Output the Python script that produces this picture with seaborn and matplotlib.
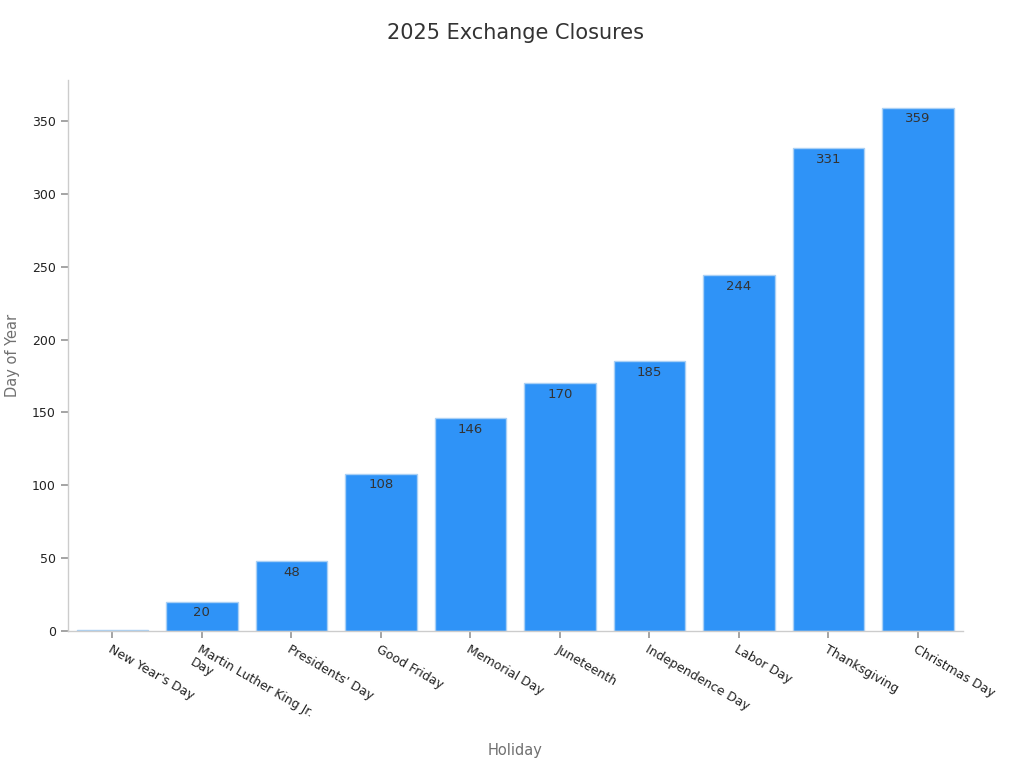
import matplotlib
matplotlib.use('Agg')
import matplotlib.pyplot as plt
import seaborn as sns
import pandas as pd

holidays = ["New Year's Day", "Martin Luther King Jr.\nDay", "Presidents' Day", "Good Friday",
            "Memorial Day", "Juneteenth", "Independence Day", "Labor Day", "Thanksgiving", "Christmas Day"]
day_of_year = [1, 20, 48, 108, 146, 170, 185, 244, 331, 359]

df = pd.DataFrame({'Holiday': holidays, 'Day': day_of_year})

sns.set_theme(style='white')
plt.rcParams['font.family'] = ['DejaVu Sans']

fig = plt.figure(figsize=(10.24, 7.68), dpi=100)
ax = fig.add_axes([0.066, 0.178, 0.874, 0.718])

sns.barplot(data=df, x='Holiday', y='Day', color='#2F93F7', saturation=1,
            width=0.8, edgecolor='#A9D0F5', linewidth=1, ax=ax)

# value labels just inside the top of each bar
for i, v in enumerate(day_of_year):
    if v < 10:
        continue
    ax.text(i, v - 3, str(v), ha='center', va='top', fontsize=9.5, color='#333333')

ax.set_ylim(0, 378)
ax.set_xlim(-0.5, 9.5)
ax.set_yticks(range(0, 351, 50))

for s in ['top', 'right']:
    ax.spines[s].set_visible(False)
for s in ['left', 'bottom']:
    ax.spines[s].set_color('#CCCCCC')
    ax.spines[s].set_linewidth(1)

ax.tick_params(axis='both', which='both', length=5, color='#999999', labelsize=9,
               labelcolor='#222222', bottom=True, left=True)
plt.setp(ax.get_xticklabels(), rotation=-30, ha='left', rotation_mode='anchor')

ax.set_title('2025 Exchange Closures', fontsize=15, color='#333333', y=1.069, va='center')
ax.set_xlabel('Holiday', fontsize=10.5, color='#707070')
ax.set_ylabel('Day of Year', fontsize=10.5, color='#707070')
ax.xaxis.set_label_coords(0.5, -0.216)
ax.yaxis.set_label_coords(-0.0615, 0.5)
ax.xaxis.label.set_va('center')
ax.yaxis.label.set_va('center')

fig.savefig('out.png', dpi=100)
